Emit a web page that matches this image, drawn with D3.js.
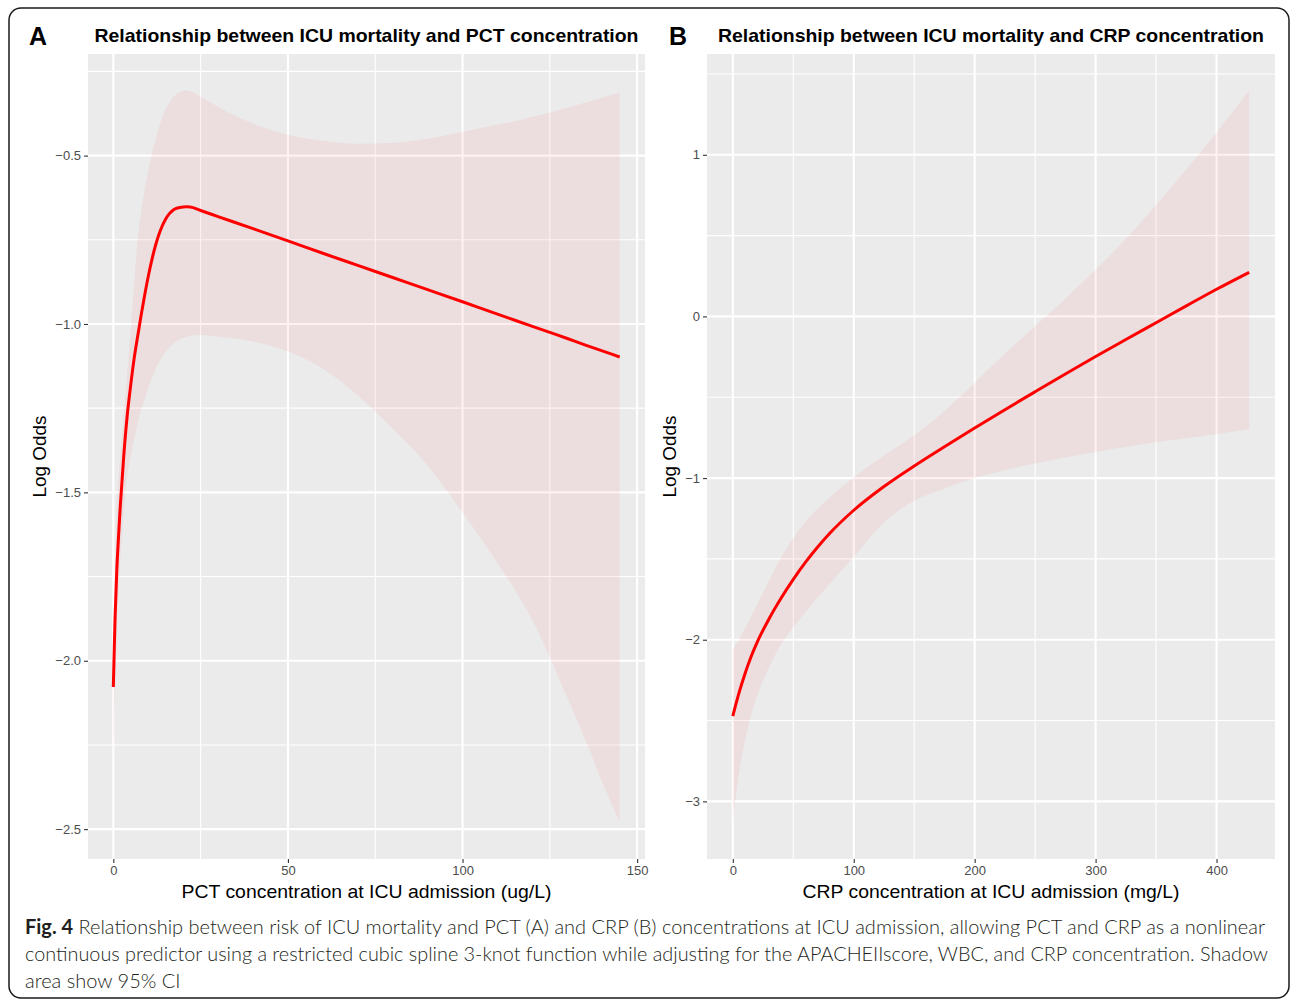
<!DOCTYPE html>
<html>
<head>
<meta charset="utf-8">
<script src="https://cdn.jsdelivr.net/npm/d3@7"></script>
<style>
body{margin:0;background:#fff;}
text{font-family:"Liberation Sans",Arial,Helvetica,sans-serif;}
</style>
</head>
<body>
<svg id="fig" width="1292" height="1000"></svg>
<script>
// ---- panel A : PCT ----
var pctX   =[0,0.5,1,1.5,2,3,4,5,6,7,8,9,10,11,12,13,14,15,16,17,18,19,20,21,22,25,30,40,50,60,70,80,90,100,110,115,120,125,130,135,140,145];
var pctFit =[-2.078,-1.872,-1.73,-1.63,-1.54,-1.39,-1.27,-1.18,-1.10,-1.035,-0.972,-0.913,-0.859,-0.811,-0.770,-0.736,-0.709,-0.688,-0.673,-0.663,-0.657,-0.654,-0.6525,-0.652,-0.6525,-0.663,-0.681,-0.717,-0.753,-0.790,-0.826,-0.862,-0.898,-0.934,-0.971,-0.989,-1.007,-1.025,-1.043,-1.062,-1.080,-1.098];
var pctLow =[-2.33,-2.10,-1.93,-1.80,-1.70,-1.56,-1.45,-1.39,-1.34,-1.295,-1.255,-1.222,-1.19,-1.162,-1.135,-1.115,-1.098,-1.083,-1.07,-1.06,-1.052,-1.046,-1.042,-1.039,-1.036,-1.033,-1.037,-1.052,-1.082,-1.133,-1.212,-1.31,-1.42,-1.56,-1.71,-1.79,-1.88,-1.99,-2.11,-2.23,-2.36,-2.48];
var pctUp  =[-1.95,-1.72,-1.54,-1.46,-1.39,-1.27,-1.145,-1.01,-0.875,-0.745,-0.665,-0.60,-0.545,-0.497,-0.455,-0.418,-0.387,-0.362,-0.343,-0.328,-0.318,-0.311,-0.308,-0.307,-0.309,-0.325,-0.355,-0.405,-0.438,-0.456,-0.465,-0.462,-0.450,-0.430,-0.408,-0.398,-0.385,-0.372,-0.358,-0.343,-0.328,-0.312];
var pctXTicks=[0,50,100,150];
var pctYTicks=[-2.5,-2,-1.5,-1,-0.5];

// ---- panel B : CRP ----
var crpX   =[0,5,10,15,20,30,40,50,60,70,80,100,125,150,175,200,225,250,275,300,325,350,375,400,427];
var crpFit =[-2.472,-2.332,-2.212,-2.107,-2.018,-1.87,-1.742,-1.627,-1.522,-1.428,-1.343,-1.199,-1.052,-0.925,-0.806,-0.69,-0.577,-0.466,-0.356,-0.248,-0.143,-0.039,0.065,0.168,0.273];
var crpLow =[-3.13,-2.83,-2.63,-2.47,-2.35,-2.17,-2.03,-1.925,-1.832,-1.741,-1.655,-1.487,-1.275,-1.14,-1.066,-1.00,-0.952,-0.91,-0.873,-0.838,-0.808,-0.779,-0.753,-0.729,-0.698];
var crpUp  =[-2.06,-2.00,-1.93,-1.86,-1.785,-1.635,-1.49,-1.37,-1.27,-1.19,-1.12,-0.995,-0.86,-0.735,-0.585,-0.41,-0.23,-0.06,0.11,0.29,0.48,0.69,0.91,1.14,1.397];
var crpXTicks=[0,100,200,300,400];
var crpYTicks=[-3,-2,-1,0,1];

var panelTags  =["A","B"];
var panelTitles=["Relationship between ICU mortality and PCT concentration","Relationship between ICU mortality and CRP concentration"];
var xTitles    =["PCT concentration at ICU admission (ug/L)","CRP concentration at ICU admission (mg/L)"];
var yTitle     ="Log Odds";
var captionBold="Fig. 4";
var captionLines=[
  " Relationship between risk of ICU mortality and PCT (A) and CRP (B) concentrations at ICU admission, allowing PCT and CRP as a nonlinear",
  "continuous predictor using a restricted cubic spline 3-knot function while adjusting for the APACHEIIscore, WBC, and CRP concentration. Shadow",
  "area show 95% CI"
];

var svg=d3.select("#fig");
// ggplot prints a real minus sign
function minusFmt(spec){
	var f=d3.format(spec);
	return function(d){return f(d).replace("-","\u2212");};
}

// ggplot style 5% expansion
function expand(lo,hi){
	var d=(hi-lo)*0.05;
	return [lo-d,hi+d];
}
function minors(ticks,domain){
	var step=ticks[1]-ticks[0];
	return d3.range(ticks[0]-step/2,ticks[ticks.length-1]+step,step)
	         .filter(function(v){return v>=domain[0]&&v<=domain[1];});
}
function fit(sel,w){
	sel.attr("textLength",w).attr("lengthAdjust","spacingAndGlyphs");
}

function drawPanel(cfg){
	var g=svg.append("g");
	var x=d3.scaleLinear()
	        .domain(expand(d3.min(cfg.x),d3.max(cfg.x)))
	        .range([cfg.left,cfg.right]);
	var y=d3.scaleLinear()
	        .domain(expand(d3.min(cfg.low),d3.max(cfg.up)))
	        .range([cfg.bottom,cfg.top]);

	g.append("rect")
	 .attr("x",cfg.left).attr("y",cfg.top)
	 .attr("width",cfg.right-cfg.left).attr("height",cfg.bottom-cfg.top)
	 .attr("fill","#EBEBEB");

	// grid : minor first, then major
	g.selectAll(".xmin").data(minors(cfg.xTicks,x.domain())).enter().append("line")
	 .attr("x1",x).attr("x2",x).attr("y1",cfg.top).attr("y2",cfg.bottom)
	 .attr("stroke","#fff").attr("stroke-width",1.1);
	g.selectAll(".ymin").data(minors(cfg.yTicks,y.domain())).enter().append("line")
	 .attr("y1",y).attr("y2",y).attr("x1",cfg.left).attr("x2",cfg.right)
	 .attr("stroke","#fff").attr("stroke-width",1.1);
	g.selectAll(".xmaj").data(cfg.xTicks).enter().append("line")
	 .attr("x1",x).attr("x2",x).attr("y1",cfg.top).attr("y2",cfg.bottom)
	 .attr("stroke","#fff").attr("stroke-width",2.1);
	g.selectAll(".ymaj").data(cfg.yTicks).enter().append("line")
	 .attr("y1",y).attr("y2",y).attr("x1",cfg.left).attr("x2",cfg.right)
	 .attr("stroke","#fff").attr("stroke-width",2.1);

	var rows=cfg.x.map(function(v,i){return {x:v,fit:cfg.fit[i],lo:cfg.low[i],hi:cfg.up[i]};});

	var area=d3.area().curve(d3.curveMonotoneX)
	           .x(function(d){return x(d.x);})
	           .y0(function(d){return y(d.lo);})
	           .y1(function(d){return y(d.hi);});
	g.append("path").attr("d",area(rows))
	 .attr("fill","#FF0000").attr("fill-opacity",0.055);

	var line=d3.line().curve(d3.curveMonotoneX)
	           .x(function(d){return x(d.x);})
	           .y(function(d){return y(d.fit);});
	g.append("path").attr("d",line(rows))
	 .attr("fill","none").attr("stroke","#FF0000").attr("stroke-width",3)
	 .attr("stroke-linejoin","round");

	// axes
	var ax=g.append("g").attr("transform","translate(0,"+cfg.bottom+")")
	        .call(d3.axisBottom(x).tickValues(cfg.xTicks).tickFormat(minusFmt("d")).tickSize(4).tickPadding(3));
	var ay=g.append("g").attr("transform","translate("+cfg.left+",0)")
	        .call(d3.axisLeft(y).tickValues(cfg.yTicks).tickFormat(minusFmt(cfg.yFmt)).tickSize(4).tickPadding(3));
	[ax,ay].forEach(function(a){
		a.select(".domain").remove();
		a.selectAll(".tick line").attr("stroke","#333").attr("stroke-width",1.1);
		a.selectAll(".tick text").attr("fill","#4D4D4D")
		 .style("font-size","13px").style("font-family","'Liberation Sans',Arial,sans-serif");
	});

	var cx=(cfg.left+cfg.right)/2;
	g.append("text").text(cfg.tag)
	 .attr("x",cfg.tagX).attr("y",45)
	 .style("font-size","25px").style("font-weight","bold").attr("fill","#000");
	g.append("text").text(cfg.title)
	 .attr("x",cx).attr("y",42).attr("text-anchor","middle")
	 .style("font-size","18.5px").style("font-weight","bold").attr("fill","#000")
	 .call(fit,cfg.titleW);
	g.append("text").text(cfg.xTitle)
	 .attr("x",cx).attr("y",898).attr("text-anchor","middle")
	 .style("font-size","19px").attr("fill","#000")
	 .call(fit,cfg.xTitleW);
	g.append("text").text(yTitle)
	 .attr("transform","translate("+cfg.yTitleX+","+((cfg.top+cfg.bottom)/2)+") rotate(-90)")
	 .attr("text-anchor","middle")
	 .style("font-size","19px").attr("fill","#000")
	 .call(fit,82);
}

// frame
svg.append("rect")
   .attr("x",9).attr("y",8).attr("width",1280).attr("height",990)
   .attr("rx",12).attr("ry",12)
   .attr("fill","none").attr("stroke","#1a1a1a").attr("stroke-width",1.5);

drawPanel({x:pctX,fit:pctFit,low:pctLow,up:pctUp,xTicks:pctXTicks,yTicks:pctYTicks,yFmt:".1f",
           left:88,right:645,top:54,bottom:859,tag:panelTags[0],tagX:29,title:panelTitles[0],titleW:544,
           xTitle:xTitles[0],xTitleW:370,yTitleX:46});
drawPanel({x:crpX,fit:crpFit,low:crpLow,up:crpUp,xTicks:crpXTicks,yTicks:crpYTicks,yFmt:"d",
           left:707,right:1275,top:54,bottom:859,tag:panelTags[1],tagX:669,title:panelTitles[1],titleW:546,
           xTitle:xTitles[1],xTitleW:377,yTitleX:676});

// caption
var cap=svg.append("g").attr("fill","#231F20")
           .style("font-size","20px").style("font-weight","300");
var t0=cap.append("text").attr("x",25).attr("y",934).style("font-family","Lato,'Open Sans',sans-serif");
t0.append("tspan").text(captionBold).style("font-weight","bold");
t0.append("tspan").text(captionLines[0]);
t0.call(fit,1240);
cap.append("text").attr("x",25).attr("y",961).style("font-family","Lato,'Open Sans',sans-serif")
   .text(captionLines[1]).call(fit,1243);
cap.append("text").attr("x",25).attr("y",988).style("font-family","Lato,'Open Sans',sans-serif")
   .text(captionLines[2]);
</script>
</body>
</html>
